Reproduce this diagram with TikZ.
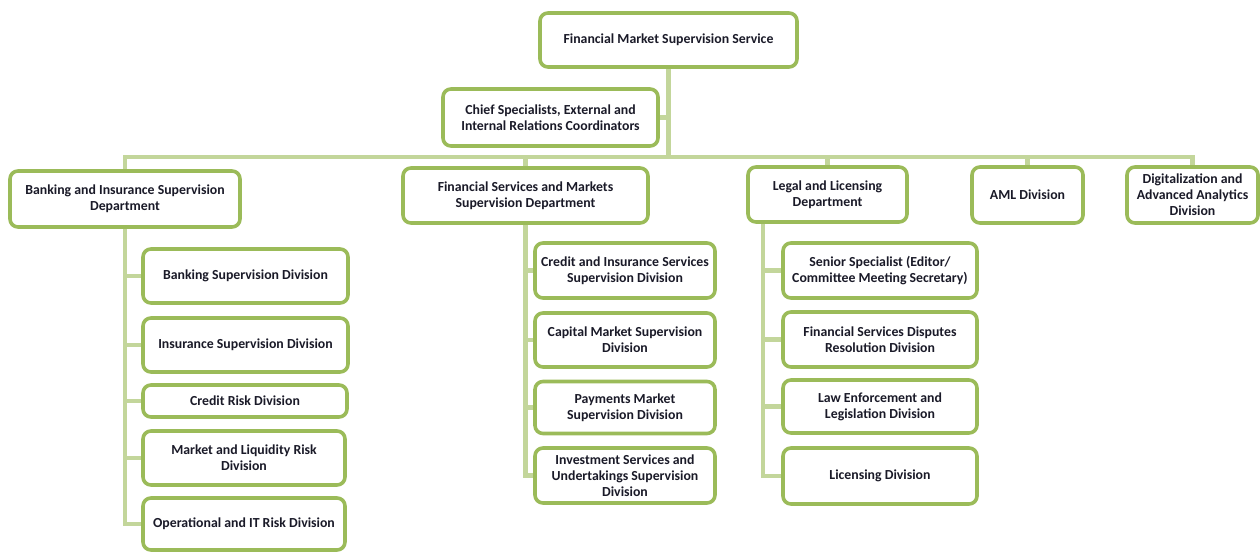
\documentclass[tikz,border=0pt]{standalone}
\usepackage{fontspec}
\setmainfont{Carlito}
\begin{document}
\begin{tikzpicture}[x=1pt,y=-1pt,
  bx/.style={draw=boxgreen, line width=3.6pt, rounded corners=8pt, fill=white,
    align=center, inner sep=1pt, text=textdark,
    font=\bfseries\fontsize{13.8}{16}\selectfont},
  ln/.style={draw=linegreen, line width=4.5pt}]
\definecolor{boxgreen}{HTML}{9BBB59}
\definecolor{linegreen}{HTML}{C3D69B}
\definecolor{textdark}{HTML}{1A1A28}
\useasboundingbox (0,0) rectangle (1260,552);
% nodes
\node[bx, minimum width=257pt, minimum height=54pt] (top) at (668.5,40) {Financial Market Supervision Service};
\node[bx, minimum width=215pt, minimum height=57pt] (chief) at (550.5,117.5) {Chief Specialists, External and\\Internal Relations Coordinators};
\node[bx, minimum width=230pt, minimum height=56pt] (bis) at (125,199) {Banking and Insurance Supervision\\Department};
\node[bx, minimum width=245pt, minimum height=55pt] (fsm) at (525.5,195.5) {Financial Services and Markets\\Supervision Department};
\node[bx, minimum width=159pt, minimum height=55pt] (lld) at (827.5,194.5) {Legal and Licensing\\Department};
\node[bx, minimum width=111pt, minimum height=56pt] (aml) at (1027.5,195) {AML Division};
\node[bx, minimum width=131pt, minimum height=56pt] (dig) at (1192.5,195) {Digitalization and\\Advanced Analytics\\Division};
% banking children
\node[bx, minimum width=205pt, minimum height=54pt] (b1) at (245.5,276) {Banking Supervision Division};
\node[bx, minimum width=205pt, minimum height=54pt] (b2) at (245.5,345) {Insurance Supervision Division};
\node[bx, minimum width=204pt, minimum height=32pt] (b3) at (245,401) {Credit Risk Division};
\node[bx, minimum width=202pt, minimum height=54pt] (b4) at (244,458) {Market and Liquidity Risk\\Division};
\node[bx, minimum width=202pt, minimum height=52pt] (b5) at (244,524) {Operational and IT Risk Division};
% fsm children
\node[bx, minimum width=180pt, minimum height=55pt] (f1) at (625,270.5) {Credit and Insurance Services\\Supervision Division};
\node[bx, minimum width=180pt, minimum height=54pt] (f2) at (625,340) {Capital Market Supervision\\Division};
\node[bx, minimum width=180pt, minimum height=52pt] (f3) at (625,407.5) {Payments Market\\Supervision Division};
\node[bx, minimum width=180pt, minimum height=55pt] (f4) at (625,475.5) {Investment Services and\\Undertakings Supervision\\Division};
% legal children
\node[bx, minimum width=194pt, minimum height=55pt] (l1) at (880,270.5) {Senior Specialist (Editor/\\Committee Meeting Secretary)};
\node[bx, minimum width=194pt, minimum height=55pt] (l2) at (880,339.5) {Financial Services Disputes\\Resolution Division};
\node[bx, minimum width=194pt, minimum height=53pt] (l3) at (880,406.5) {Law Enforcement and\\Legislation Division};
\node[bx, minimum width=194pt, minimum height=56pt] (l4) at (880,476) {Licensing Division};
% connectors
\coordinate (bar) at (668.5,157);
\coordinate (lv) at ([xshift=17pt]lld.south west);
\path[ln] (top.south) -- (bar);
\path[ln] (chief.east) -- (chief.east -| bar);
\path[ln] (bis.north) |- (bar) -| (dig.north);
\path[ln] (fsm.north) -- (fsm.north |- bar);
\path[ln] (lld.north) -- (lld.north |- bar);
\path[ln] (aml.north) -- (aml.north |- bar);
\path[ln] (bis.south) |- (b5.west);
\foreach \c in {b1,b2,b3,b4} \path[ln] (bis.south |- \c.west) -- (\c.west);
\path[ln] (fsm.south) |- (f4.west);
\foreach \c in {f1,f2,f3} \path[ln] (fsm.south |- \c.west) -- (\c.west);
\path[ln] (lv) |- (l4.west);
\foreach \c in {l1,l2,l3} \path[ln] (lv |- \c.west) -- (\c.west);
\end{tikzpicture}
\end{document}
